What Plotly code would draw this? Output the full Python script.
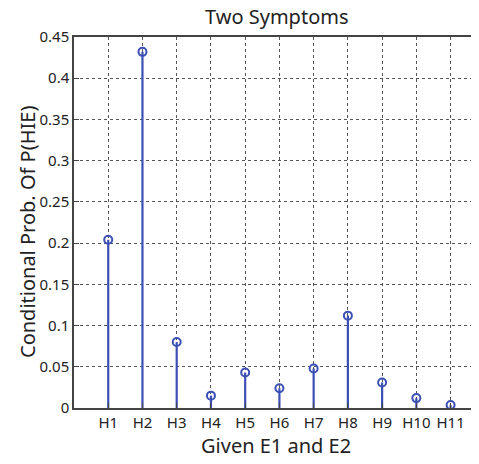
import plotly.graph_objects as go

categories = ["H1", "H2", "H3", "H4", "H5", "H6", "H7", "H8", "H9", "H10", "H11"]
positions = list(range(1, len(categories) + 1))
probabilities = [0.204, 0.432, 0.080, 0.015, 0.043, 0.024, 0.048, 0.112, 0.031, 0.012, 0.0035]
y_tick_values = [0, 0.05, 0.1, 0.15, 0.2, 0.25, 0.3, 0.35, 0.4, 0.45]
y_tick_labels = ["0", "0.05", "0.1", "0.15", "0.2", "0.25", "0.3", "0.35", "0.4", "0.45"]

# The page body has an 8px default margin, so the figure is offset by 8px.
OFF = 8
W, H = 479 - OFF, 464 - OFF
L, R, T, B = 74 - OFF, 0, 37 - OFF, 56
pw, ph = W - L - R, H - T - B

blue = "#3b4fb4"
font_family = "Noto Sans, Open Sans, sans-serif"
txt = "#222222"


def px(xp):
    return (xp - OFF - L) / pw


def py(yp):
    return (H - B - (yp - OFF)) / ph


fig = go.Figure()
fig.add_trace(go.Scatter(
    x=positions,
    y=probabilities,
    mode="markers",
    marker=dict(symbol="circle-open", size=8, color=blue, line=dict(width=2, color=blue)),
    error_y=dict(type="data", symmetric=False, array=[0] * len(probabilities),
                 arrayminus=probabilities, width=0, thickness=2.2, color=blue),
    showlegend=False,
    hoverinfo="x+y",
))

fig.update_layout(
    width=W, height=H,
    margin=dict(l=L, r=R, t=T, b=B, autoexpand=False),
    paper_bgcolor="white", plot_bgcolor="white",
    font=dict(family=font_family, color=txt, size=15),
    annotations=[
        dict(text="Two Symptoms", xref="paper", yref="paper",
             x=px(277), y=py(17), xanchor="center", yanchor="middle",
             showarrow=False, font=dict(size=20, color=txt)),
        dict(text="Given E1 and E2", xref="paper", yref="paper",
             x=px(276), y=py(445), xanchor="center", yanchor="middle",
             showarrow=False, font=dict(size=20, color=txt)),
        dict(text="Conditional Prob. Of P(HIE)", xref="paper", yref="paper",
             x=px(28), y=py(232), xanchor="center", yanchor="middle",
             textangle=-90, showarrow=False, font=dict(size=20, color=txt)),
    ],
)

fig.update_xaxes(
    range=[0, 11.83], automargin=False,
    tickvals=positions, ticktext=categories,
    showgrid=True, gridcolor="#555555", gridwidth=1, griddash="3px,3px",
    showline=True, linecolor="#444444", linewidth=1.5, mirror=True,
    ticks="inside", ticklen=5, tickcolor="#444444",
    zeroline=False,
    tickfont=dict(size=15),
)
fig.update_yaxes(
    range=[0, 0.45], automargin=False,
    tickvals=y_tick_values, ticktext=y_tick_labels,
    showgrid=True, gridcolor="#555555", gridwidth=1, griddash="3px,3px",
    showline=True, linecolor="#444444", linewidth=1.5, mirror=False,
    ticks="inside", ticklen=5, tickcolor="#444444",
    zeroline=False,
    tickfont=dict(size=15),
)

fig.write_html("out.html")
